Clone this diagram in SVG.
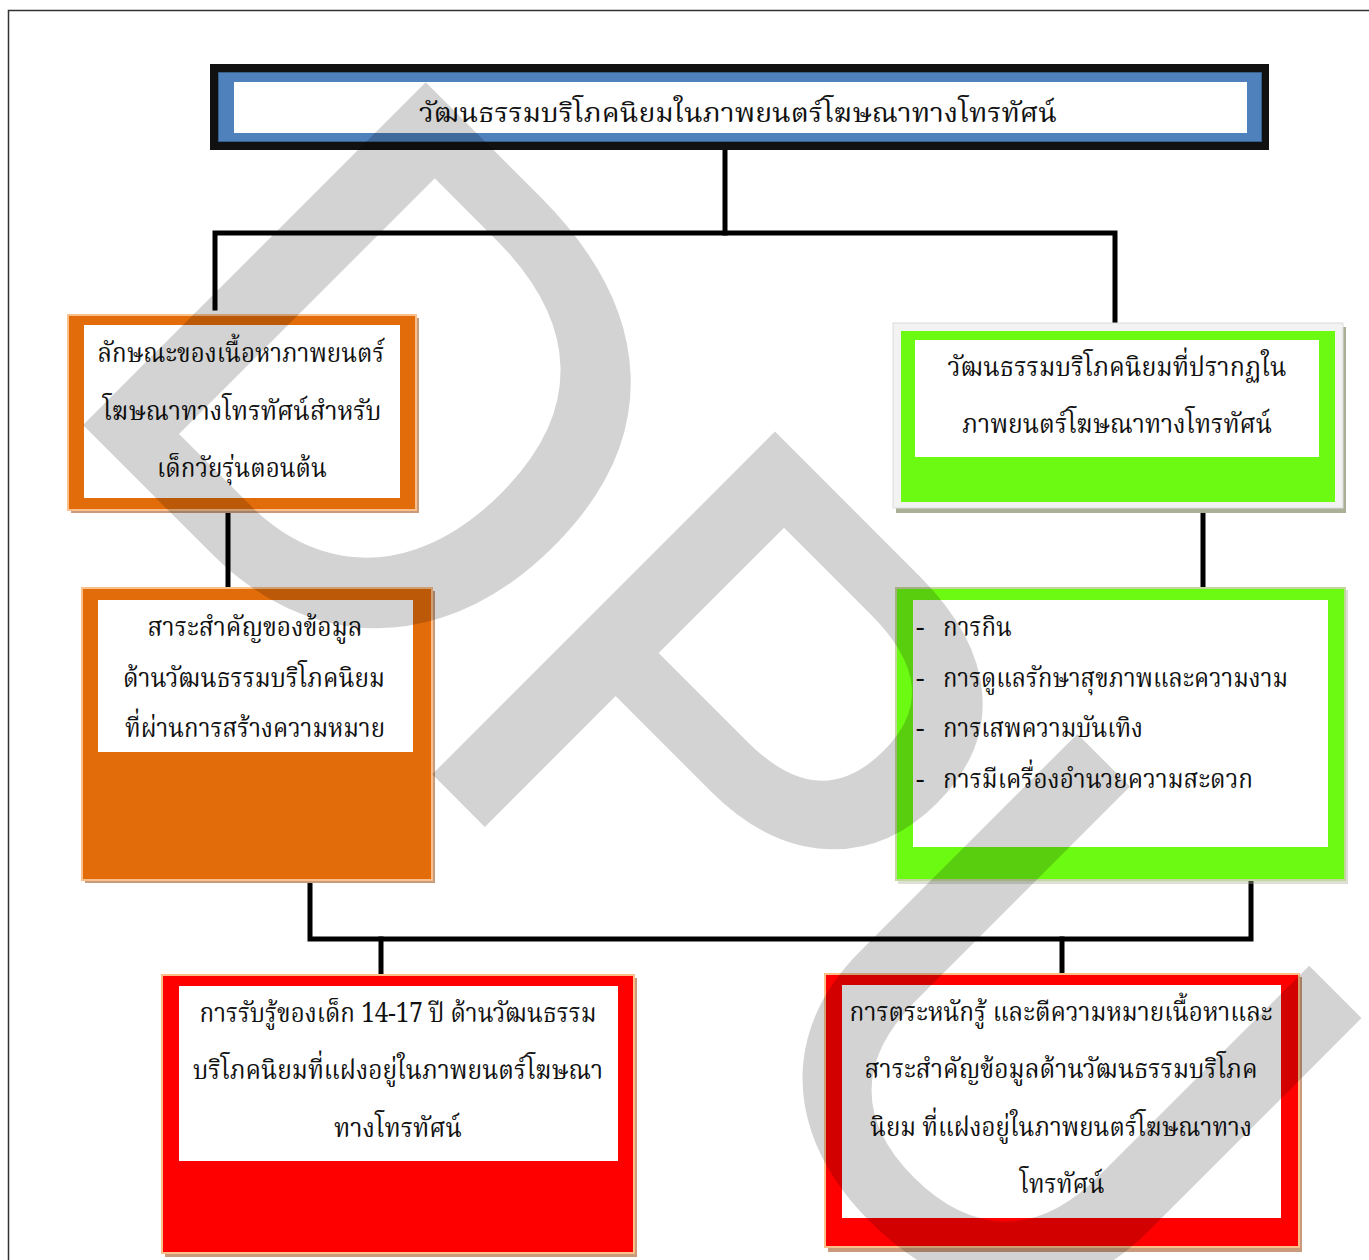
<svg xmlns="http://www.w3.org/2000/svg" width="1369" height="1260" viewBox="0 0 1369 1260">
<style>
.t{font-family:"Kinnari","Norasi","Noto Serif Thai","Noto Sans Thai","Garuda","Loma","DejaVu Serif","Liberation Serif",serif;font-size:27px;fill:#111;}
.c{text-anchor:middle;}
.conn{stroke:#000;stroke-width:5;fill:none;stroke-linecap:square;}
.wm{font-family:"Liberation Sans",Arial,sans-serif;font-size:690px;fill:#000;stroke:#000;stroke-width:10;stroke-linejoin:miter;}
</style>
<rect x="0" y="0" width="1369" height="1260" fill="#fff"/>
<path d="M8.5,1260 V10.5 H1369" fill="none" stroke="#333" stroke-width="1.5"/>

<g id="connectors">
  <path class="conn" d="M725,150 V233"/>
  <path class="conn" d="M215,308 V233 H1115 V322"/>
  <path class="conn" d="M228,511 V588"/>
  <path class="conn" d="M1203,513 V587"/>
  <path class="conn" d="M310,883 V939 H1251 V882"/>
  <path class="conn" d="M381,939 V974"/>
  <path class="conn" d="M1062,939 V973"/>
</g>

<g id="node-top">
  <rect x="210" y="64" width="1059" height="86" fill="#111"/>
  <rect x="218.5" y="72.5" width="1043" height="69" fill="#4f81bd" stroke="#385d8a" stroke-width="1"/>
  <rect x="234" y="82" width="1013" height="51" fill="#fff"/>
  <text class="t c" x="738" y="122" textLength="638" lengthAdjust="spacingAndGlyphs">วัฒนธรรมบริโภคนิยมในภาพยนตร์โฆษณาทางโทรทัศน์</text>
</g>

<g id="node-a">
  <rect x="71" y="318" width="348" height="195" fill="#c99b7a"/>
  <rect x="68" y="315" width="348" height="195" fill="#e36c0a" stroke="#fbc08a" stroke-width="2"/>
  <rect x="84" y="325" width="316" height="173" fill="#fff"/>
  <text class="t c" x="241" y="362" textLength="287" lengthAdjust="spacingAndGlyphs">ลักษณะของเนื้อหาภาพยนตร์</text>
  <text class="t c" x="242" y="420" textLength="279" lengthAdjust="spacingAndGlyphs">โฆษณาทางโทรทัศน์สำหรับ</text>
  <text class="t c" x="242" y="477" textLength="170" lengthAdjust="spacingAndGlyphs">เด็กวัยรุ่นตอนต้น</text>
</g>

<g id="node-b">
  <rect x="85" y="591" width="350" height="292" fill="#c99b7a"/>
  <rect x="82" y="588" width="350" height="292" fill="#e36c0a" stroke="#fbc08a" stroke-width="2"/>
  <rect x="98" y="600" width="315" height="152" fill="#fff"/>
  <text class="t c" x="255" y="636" textLength="215" lengthAdjust="spacingAndGlyphs">สาระสำคัญของข้อมูล</text>
  <text class="t c" x="254" y="687" textLength="262" lengthAdjust="spacingAndGlyphs">ด้านวัฒนธรรมบริโภคนิยม</text>
  <text class="t c" x="255" y="737" textLength="260" lengthAdjust="spacingAndGlyphs">ที่ผ่านการสร้างความหมาย</text>
</g>

<g id="node-c">
  <rect x="896" y="327" width="450" height="186" fill="#a9b096"/>
  <rect x="893" y="323" width="450" height="185" fill="#f2f2f2" stroke="#dcdcdc" stroke-width="1"/>
  <rect x="901" y="331" width="434" height="171" fill="#6cf912"/>
  <rect x="915" y="340" width="404" height="117" fill="#fff"/>
  <text class="t c" x="1117" y="376" textLength="339" lengthAdjust="spacingAndGlyphs">วัฒนธรรมบริโภคนิยมที่ปรากฏใน</text>
  <text class="t c" x="1117" y="433" textLength="310" lengthAdjust="spacingAndGlyphs">ภาพยนตร์โฆษณาทางโทรทัศน์</text>
</g>

<g id="node-d">
  <rect x="898" y="590" width="450" height="294" fill="#a9b096" fill-opacity="0.4"/>
  <rect x="896" y="588" width="449" height="292" fill="#6cf912" stroke="#c3d69b" stroke-width="2"/>
  <rect x="913" y="600" width="415" height="247" fill="#fff"/>
  <text class="t" x="916" y="636">-</text>
  <text class="t" x="943" y="636" textLength="69" lengthAdjust="spacingAndGlyphs">การกิน</text>
  <text class="t" x="916" y="687">-</text>
  <text class="t" x="943" y="687" textLength="345" lengthAdjust="spacingAndGlyphs">การดูแลรักษาสุขภาพและความงาม</text>
  <text class="t" x="916" y="737">-</text>
  <text class="t" x="943" y="737" textLength="200" lengthAdjust="spacingAndGlyphs">การเสพความบันเทิง</text>
  <text class="t" x="916" y="788">-</text>
  <text class="t" x="943" y="788" textLength="310" lengthAdjust="spacingAndGlyphs">การมีเครื่องอำนวยความสะดวก</text>
</g>

<g id="node-e">
  <rect x="165" y="978" width="472" height="279" fill="#c99b7a"/>
  <rect x="162" y="975" width="472" height="278" fill="#ff0000" stroke="#fbc08a" stroke-width="2"/>
  <rect x="179" y="986" width="439" height="175" fill="#fff"/>
  <text class="t c" x="398" y="1022" textLength="397" lengthAdjust="spacingAndGlyphs">การรับรู้ของเด็ก 14-17 ปี ด้านวัฒนธรรม</text>
  <text class="t c" x="398" y="1079" textLength="410" lengthAdjust="spacingAndGlyphs">บริโภคนิยมที่แฝงอยู่ในภาพยนตร์โฆษณา</text>
  <text class="t c" x="398" y="1137" textLength="128" lengthAdjust="spacingAndGlyphs">ทางโทรทัศน์</text>
</g>

<g id="node-f">
  <rect x="828" y="977" width="474" height="275" fill="#c99b7a"/>
  <rect x="825" y="974" width="474" height="273" fill="#ff0000" stroke="#fbc08a" stroke-width="2"/>
  <rect x="842" y="985" width="439" height="233" fill="#fff"/>
  <text class="t c" x="1061" y="1021" textLength="423" lengthAdjust="spacingAndGlyphs">การตระหนักรู้ และตีความหมายเนื้อหาและ</text>
  <text class="t c" x="1061" y="1078" textLength="393" lengthAdjust="spacingAndGlyphs">สาระสำคัญข้อมูลด้านวัฒนธรรมบริโภค</text>
  <text class="t c" x="1061" y="1136" textLength="382" lengthAdjust="spacingAndGlyphs">นิยม ที่แฝงอยู่ในภาพยนตร์โฆษณาทาง</text>
  <text class="t c" x="1062" y="1193" textLength="85" lengthAdjust="spacingAndGlyphs">โทรทัศน์</text>
</g>

<g id="watermark" opacity="0.17">
  <text class="wm" transform="translate(50,385) rotate(45)" x="0 494 925" y="0">DPU</text>
</g>
</svg>
